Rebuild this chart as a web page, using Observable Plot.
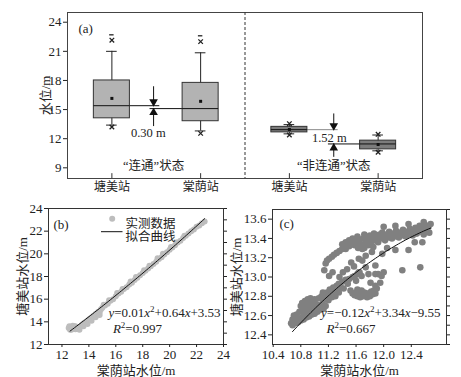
<!DOCTYPE html>
<html><head><meta charset="utf-8">
<script src="https://cdn.jsdelivr.net/npm/d3@7"></script>
<script src="https://cdn.jsdelivr.net/npm/@observablehq/plot@0.6"></script>
<style>
body{margin:0;background:#fff;}
#wrap{position:relative;width:461px;height:377px;overflow:hidden;background:#fff;}
#wrap svg{position:absolute;overflow:visible;}
</style></head><body><div id="wrap"></div>
<script>
// ---------- panel (a) data ----------
const boxPos = [1, 2, 3, 4];
const boxStation = ["塘美站", "棠荫站", "塘美站", "棠荫站"];
const boxState = ["连通", "连通", "非连通", "非连通"];
const q1 = [14.1, 13.8, 12.65, 10.9];
const q3 = [18.0, 17.75, 13.22, 11.8];
const median = [15.4, 15.1, 12.93, 11.46];
const whiskerLo = [13.4, 12.8, 12.5, 10.75];
const whiskerHi = [21.0, 20.85, 13.45, 12.38];
const means = [16.15, 15.85, 12.95, 11.4];
const topMark = [22.15, 22.0, 13.55, 12.45];
const botMark = [13.2, 12.55, 12.38, 10.6];
const maxBox = [0, 1];
const maxVal = [22.7, 22.6];
const yTicksA = [9, 12, 15, 18, 21, 24];
// median extension lines (box index, far end position)
const extBox = [0, 1, 2, 3];
const extTo = [1.54, 1.43, 3.55, 3.44];
// gap arrows
const arrowX = [1.47, 1.47, 3.5, 3.5];
const arrowFrom = [17.35, 13.25, 14.55, 10.08];
const arrowTo = [15.4, 15.1, 12.93, 11.46];
const arrowDir = ["down", "up", "down", "up"];
const gapText = ["0.30 m", "1.52 m"];
const gapX = [1.41, 3.45];
const gapY = [12.55, 12.08];
const stateText = ["“连通”状态", "“非连通”状态"];
const stateX = [1.47, 3.5];
const stateY = [9.15, 9.15];

// ---------- panel (b) data ----------
const obsB = [
[12.5,13.45],[12.55,13.6],[12.6,13.3],[12.6,13.55],[12.7,13.55],[12.7,13.3],[12.8,13.4],[12.8,13.65],[12.9,13.6],[13.0,13.35],[13.0,13.6],
[13.1,13.55],[13.2,13.4],[13.3,13.5],[13.3,13.3],[13.4,13.6],[13.5,13.75],[13.6,13.85],[13.6,13.6],[13.7,13.95],[13.8,13.9],[13.9,14.1],[13.9,13.8],
[14.0,14.2],[14.1,14.3],[14.2,14.35],[14.2,14.1],[14.3,14.5],[14.4,14.55],[14.5,14.7],[14.5,14.4],[14.6,14.75],[14.7,14.9],[14.8,14.85],[14.8,14.6],[14.9,15.1],
[15.0,15.25],[15.1,15.5],[15.2,15.45],[15.4,15.6],[15.5,15.9],[15.6,15.85],[15.8,16.0],[16.0,16.25],[16.1,16.55],[16.2,16.5],[16.4,16.65],[16.5,16.9],
[16.6,16.9],[16.8,17.05],[17.0,17.3],[17.1,17.55],[17.2,17.45],[17.4,17.7],[17.5,17.95],[17.6,17.9],[17.8,18.1],[18.0,18.3],[18.1,18.55],[18.2,18.5],
[18.4,18.7],[18.5,18.95],[18.6,18.9],[18.8,19.1],[19.0,19.3],[19.1,19.6],[19.2,19.55],[19.4,19.7],[19.5,20.0],[19.6,19.95],[19.8,20.15],[20.0,20.35],
[20.1,20.6],[20.2,20.55],[20.4,20.75],[20.5,21.0],[20.6,21.0],[20.8,21.15],[21.0,21.4],[21.1,21.6],[21.2,21.6],[21.4,21.8],[21.6,22.0],[21.8,22.15],
[22.0,22.4],[22.2,22.5],[22.4,22.7],[22.6,22.85]
];
const fitB = [0.01, 0.64, 3.53];
const fitRangeB = [12.6, 22.6];
const xTicksB = [12, 14, 16, 18, 20, 22, 24];
const yTicksB = [12, 14, 16, 18, 20, 22, 24];
const legendB = ["实测数据", "拟合曲线"];

// ---------- panel (c) data ----------
const obsC = [
[10.66,12.52],[10.68,12.50],[10.70,12.54],[10.72,12.52],[10.74,12.55],[10.76,12.53],[10.78,12.57],[10.80,12.55],[10.82,12.58],[10.84,12.56],
[10.86,12.60],[10.88,12.58],[10.90,12.61],[10.92,12.59],[10.94,12.63],[10.96,12.61],[10.98,12.64],[11.00,12.62],[11.02,12.66],[11.04,12.64],
[11.06,12.68],[11.08,12.66],[11.10,12.69],[11.13,12.67],[11.16,12.70],[10.68,12.56],[10.72,12.58],[10.70,12.60],
[10.80,12.70],[10.82,12.73],[10.84,12.68],[10.86,12.75],[10.88,12.71],[10.90,12.77],[10.92,12.73],[10.94,12.78],[10.96,12.70],[10.98,12.75],
[11.00,12.77],[11.02,12.72],[10.86,12.65],[10.90,12.67],[10.78,12.64],[10.74,12.61],[10.95,12.67],[11.05,12.71],[10.84,12.62],
[11.06,12.78],[11.10,12.80],[11.12,12.84],[11.15,12.79],[11.18,12.84],[11.20,12.82],[11.22,12.87],[11.25,12.85],[11.27,12.89],[11.30,12.86],
[11.32,12.91],[11.35,12.93],[11.38,12.89],[11.40,12.95],[11.42,12.88],[11.45,12.97],[11.48,12.93],[11.50,12.98],[11.52,12.86],[11.55,13.00],
[11.58,13.01],[11.60,12.96],[11.62,13.03],[11.65,13.05],[11.68,13.01],[11.20,12.76],[11.30,12.80],[11.12,12.75],[11.25,12.79],[11.35,12.84],
[11.14,13.07],[11.21,13.01],[11.26,13.05],[11.41,13.05],[11.36,13.00],[11.47,13.08],[11.57,13.11],
[11.16,13.14],[11.18,13.17],[11.21,13.19],[11.25,13.21],[11.28,13.23],[11.32,13.25],[11.36,13.27],[11.40,13.29],[11.45,13.29],[11.50,13.32],
[11.55,13.34],[11.62,13.38],[11.53,13.15],[11.40,13.34],[11.45,13.35],[11.48,13.33],
[11.45,13.36],[11.50,13.38],[11.55,13.40],[11.58,13.33],[11.60,13.36],[11.62,13.42],[11.65,13.38],[11.67,13.34],[11.70,13.40],[11.72,13.44],
[11.74,13.36],[11.76,13.41],[11.78,13.38],[11.80,13.43],[11.82,13.35],[11.84,13.40],[11.86,13.45],[11.88,13.38],[11.90,13.42],[11.92,13.36],
[11.94,13.44],[11.96,13.40],[11.98,13.46],[12.00,13.42],[12.02,13.38],[12.04,13.44],[12.06,13.41],[12.08,13.47],[12.10,13.43],[12.12,13.40],
[12.14,13.45],[12.16,13.42],[12.18,13.48],[12.20,13.44],[12.22,13.41],[12.24,13.46],[12.26,13.43],[12.28,13.49],[12.30,13.45],[12.32,13.42],
[12.34,13.47],[12.36,13.44],[12.38,13.50],[12.40,13.46],[12.42,13.43],[12.44,13.48],[12.46,13.51],[12.48,13.45],[12.50,13.49],[12.52,13.53],
[12.55,13.47],[12.58,13.50],[12.60,13.54],[12.62,13.48],[12.65,13.52],[12.68,13.55],[12.66,13.46],[12.58,13.44],
[12.00,13.52],[12.17,13.53],[12.36,13.55],[12.58,13.57],[11.63,13.30],[11.68,13.32],[11.72,13.30],[11.78,13.33],[11.85,13.31],
[11.69,13.29],[11.83,13.26],[11.64,13.19],[11.69,13.17],[11.74,13.22],[11.98,13.24],[12.17,13.28],[12.36,13.28],[12.56,13.36],[12.53,13.10],
[12.27,13.07],[11.64,13.05],[11.74,13.10],[11.78,13.03],[11.92,13.03],[12.00,13.05],[11.88,13.12],[12.05,13.30],[12.45,13.36],
[11.55,12.83],[11.58,12.81],[11.60,12.84],[11.62,12.80],[11.64,12.83],[11.66,12.79],[11.68,12.82],[11.70,12.80],[11.72,12.84],[11.74,12.81],
[11.76,12.79],[11.78,12.83],[11.80,12.80],[11.82,12.85],[11.84,12.82],[11.86,12.86],[11.88,12.83],[11.90,12.88],[11.68,12.86],[11.62,12.87],
[11.81,12.94],[11.88,12.91],[11.95,12.94],[11.97,13.01],[11.88,13.03]
];
const fitC = [-0.12, 3.34, -9.55];
const fitRangeC = [10.68, 12.68];
const xTicksC = [10.4, 10.8, 11.2, 11.6, 12.0, 12.4];
const yTicksC = [12.4, 12.6, 12.8, 13.0, 13.2, 13.4, 13.6];
const yMinorC = [12.3,12.4,12.5,12.6,12.7,12.8,12.9,13.0,13.1,13.2,13.3,13.4,13.5,13.6,13.7];

// ---------- drawing ----------
const FONT = '"Liberation Serif","Noto Sans CJK SC",serif';
const HW = 0.203, CAP = 0.06, DASH = 0.025;
const idx = d3.range(boxPos.length);
const arrIdx = d3.range(arrowX.length);
const downIdx = arrIdx.filter(k => arrowDir[k] === "down");
const upIdx = arrIdx.filter(k => arrowDir[k] === "up");
const fillFor = i => boxState[i] === "连通" ? "#b3b3b3" : "#7c7c7c";

function fitCurve(coef, range) {
  return d3.range(0, 61).map(k => {
    const x = range[0] + (range[1] - range[0]) * k / 60;
    return {x, y: coef[0] * x * x + coef[1] * x + coef[2]};
  });
}

const plotA = Plot.plot({
  width: 461, height: 200,
  marginLeft: 67, marginRight: 39, marginTop: 12, marginBottom: 22,
  style: {fontFamily: FONT, fontSize: "13px", color: "#222", background: "transparent"},
  x: {domain: [0.5, 4.5]},
  y: {domain: [7.9, 25]},
  marks: [
    Plot.frame({stroke: "#444"}),
    Plot.ruleX([2.5], {stroke: "#333", strokeDasharray: "3,2"}),
    Plot.axisY({ticks: yTicksA, tickSize: 4, tickPadding: 2, label: "水位/m", labelAnchor: "center", labelOffset: 27, labelArrow: "none", fontSize: 13}),
    Plot.axisX({ticks: boxPos, tickFormat: d => boxStation[boxPos.indexOf(d)], tickSize: 0, tickPadding: 4, label: null, fontSize: 12}),
    Plot.ruleX(boxPos, {x: d => d, y1: 7.9, y2: 8.4, stroke: "#333"}),
    // whiskers
    Plot.ruleX(idx, {x: i => boxPos[i], y1: i => whiskerLo[i], y2: i => whiskerHi[i], stroke: "#222"}),
    Plot.ruleY(idx, {x1: i => boxPos[i] - CAP, x2: i => boxPos[i] + CAP, y: i => whiskerHi[i], stroke: "#222"}),
    Plot.ruleY(idx, {x1: i => boxPos[i] - CAP, x2: i => boxPos[i] + CAP, y: i => whiskerLo[i], stroke: "#222"}),
    // median extensions
    Plot.ruleY(extBox, {x1: i => boxPos[i], x2: (i, k) => extTo[k], y: i => median[i], stroke: i => boxState[i] === "非连通" && boxStation[i] === "塘美站" ? "#8a8a8a" : "#111"}),
    // boxes
    Plot.rect(idx, {x1: i => boxPos[i] - HW, x2: i => boxPos[i] + HW, y1: i => q1[i], y2: i => q3[i], fill: fillFor, stroke: "#333"}),
    Plot.ruleY(idx, {x1: i => boxPos[i] - HW, x2: i => boxPos[i] + HW, y: i => median[i], stroke: "#111"}),
    Plot.dot(idx, {x: i => boxPos[i], y: i => means[i], symbol: "square", r: 1.7, fill: "#111"}),
    Plot.dot(idx, {x: i => boxPos[i], y: i => topMark[i], symbol: "times", r: 2.2, stroke: "#222", strokeWidth: 1.3}),
    Plot.dot(idx, {x: i => boxPos[i], y: i => botMark[i], symbol: "times", r: 2.2, stroke: "#222", strokeWidth: 1.3}),
    Plot.ruleY(maxBox, {x1: (i) => boxPos[i] - DASH, x2: i => boxPos[i] + DASH, y: (i, k) => maxVal[k], stroke: "#222", strokeWidth: 1.3}),
    // arrows
    Plot.ruleX(arrIdx, {x: k => arrowX[k], y1: k => arrowFrom[k], y2: k => arrowTo[k], stroke: "#111"}),
    Plot.dot(downIdx, {x: k => arrowX[k], y: k => arrowTo[k], symbol: "triangle", r: 3.2, fill: "#111", rotate: 180, dy: -4}),
    Plot.dot(upIdx, {x: k => arrowX[k], y: k => arrowTo[k], symbol: "triangle", r: 3.2, fill: "#111", dy: 4}),
    Plot.text(gapText, {x: (d, k) => gapX[k], y: (d, k) => gapY[k], text: d => d, fontSize: 12.5, fill: "#222"}),
    Plot.text(stateText, {x: (d, k) => stateX[k], y: (d, k) => stateY[k], text: d => d, fontSize: 12.5, fill: "#222"}),
    Plot.text(["(a)"], {frameAnchor: "top-left", dx: 11, dy: 11, textAnchor: "start", fontSize: 13, fill: "#222"})
  ]
});

const plotB = Plot.plot({
  width: 230, height: 187,
  marginLeft: 48, marginRight: 7, marginTop: 18, marginBottom: 33,
  style: {fontFamily: FONT, fontSize: "13px", color: "#222", background: "transparent"},
  x: {domain: [11, 24]},
  y: {domain: [12, 24]},
  marks: [
    Plot.dot(obsB, {x: d => d[0], y: d => d[1], r: 3, fill: "#bdbdbd"}),
    Plot.line(fitCurve(fitB, fitRangeB), {x: "x", y: "y", stroke: "#111", strokeWidth: 1}),
    Plot.frame({stroke: "#333"}),
    Plot.axisY({ticks: yTicksB, tickSize: 4, tickPadding: 2, label: "塘美站水位/m", labelAnchor: "center", labelOffset: 31, labelArrow: "none", fontSize: 13}),
    Plot.axisY({anchor: "right", ticks: d3.range(12, 25, 1), tickSize: 3, tickFormat: () => "", label: null}),
    Plot.axisX({ticks: xTicksB, tickSize: 3, tickPadding: 2, label: "棠荫站水位/m", labelAnchor: "center", labelOffset: 30, labelArrow: "none", fontSize: 13}),
    Plot.text(["(b)"], {frameAnchor: "top-left", dx: 5, dy: 11, textAnchor: "start", fontSize: 13, fill: "#222"}),
    Plot.dot([0], {frameAnchor: "top-left", dx: 63.7, dy: 10.3, r: 3, fill: "#bdbdbd"}),
    (index, scales, values, dims) => {
      const g = d3.create("svg:g");
      g.append("line").attr("x1", dims.marginLeft + 53).attr("x2", dims.marginLeft + 74.5)
        .attr("y1", dims.marginTop + 23.7).attr("y2", dims.marginTop + 23.7).attr("stroke", "#111");
      return g.node();
    },
    Plot.text([legendB[0]], {frameAnchor: "top-left", dx: 77, dy: 10.3, textAnchor: "start", fontSize: 12.5, fill: "#222"}),
    Plot.text([legendB[1]], {frameAnchor: "top-left", dx: 77, dy: 23.9, textAnchor: "start", fontSize: 12.5, fill: "#222"}),
    Plot.text(["y=0.01x²+0.64x+3.53"], {frameAnchor: "bottom-right", dx: -3, dy: -27.3, textAnchor: "end", fontSize: 13, fill: "#222"}),
    Plot.text(["R²=0.997"], {frameAnchor: "bottom-left", dx: 64.4, dy: -12, textAnchor: "start", fontSize: 13, fill: "#222"})
  ]
});

const plotC = Plot.plot({
  width: 231, height: 187,
  marginLeft: 42, marginRight: 15, marginTop: 19, marginBottom: 33,
  style: {fontFamily: FONT, fontSize: "13px", color: "#222", background: "transparent"},
  x: {domain: [10.39, 12.91]},
  y: {domain: [12.3, 13.7]},
  marks: [
    Plot.dot(obsC, {x: d => d[0], y: d => d[1], r: 3.3, fill: "#808080"}),
    Plot.line(fitCurve(fitC, fitRangeC), {x: "x", y: "y", stroke: "#111", strokeWidth: 1}),
    Plot.frame({stroke: "#333"}),
    Plot.axisY({ticks: yTicksC, tickFormat: d3.format(".1f"), tickSize: 4, tickPadding: 2, label: "塘美站水位/m", labelAnchor: "center", labelOffset: 40.5, labelArrow: "none", fontSize: 13}),
    Plot.axisY({anchor: "right", ticks: yMinorC, tickSize: 3, tickFormat: () => "", label: null}),
    Plot.axisX({ticks: xTicksC, tickFormat: d3.format(".1f"), tickSize: 3, tickPadding: 2, label: "棠荫站水位/m", labelAnchor: "center", labelOffset: 30, labelArrow: "none", fontSize: 13}),
    Plot.text(["(c)"], {frameAnchor: "top-left", dx: 7, dy: 9.5, textAnchor: "start", fontSize: 13, fill: "#222"}),
    Plot.text(["y=−0.12x²+3.34x−9.55"], {frameAnchor: "bottom-right", dx: -6, dy: -28, textAnchor: "end", fontSize: 13, fill: "#222"}),
    Plot.text(["R²=0.667"], {frameAnchor: "bottom-left", dx: 54, dy: -12, textAnchor: "start", fontSize: 13, fill: "#222"})
  ]
});

function richText(svg) {
  d3.select(svg).selectAll("text").each(function () {
    const s = this.textContent;
    if (!/^(y=|R²)/.test(s)) return;
    const sel = d3.select(this);
    sel.text(null);
    let shift = 0;
    for (const ch of s) {
      if (ch === "²") { sel.append("tspan").attr("dy", -5).attr("font-size", 9).text("2"); shift = 5; continue; }
      const t = sel.append("tspan").text(ch);
      if (/[xyR]/.test(ch)) t.attr("font-style", "italic");
      if (shift) { t.attr("dy", shift); shift = 0; }
    }
  });
}

const wrap = document.getElementById("wrap");
function place(svg, left, top) {
  svg.style.left = left + "px";
  svg.style.top = top + "px";
  wrap.appendChild(svg);
}
place(plotA, 0, 0);
richText(plotB);
richText(plotC);
place(plotB, 0, 190);
place(plotC, 230, 190);
</script>
</body></html>
